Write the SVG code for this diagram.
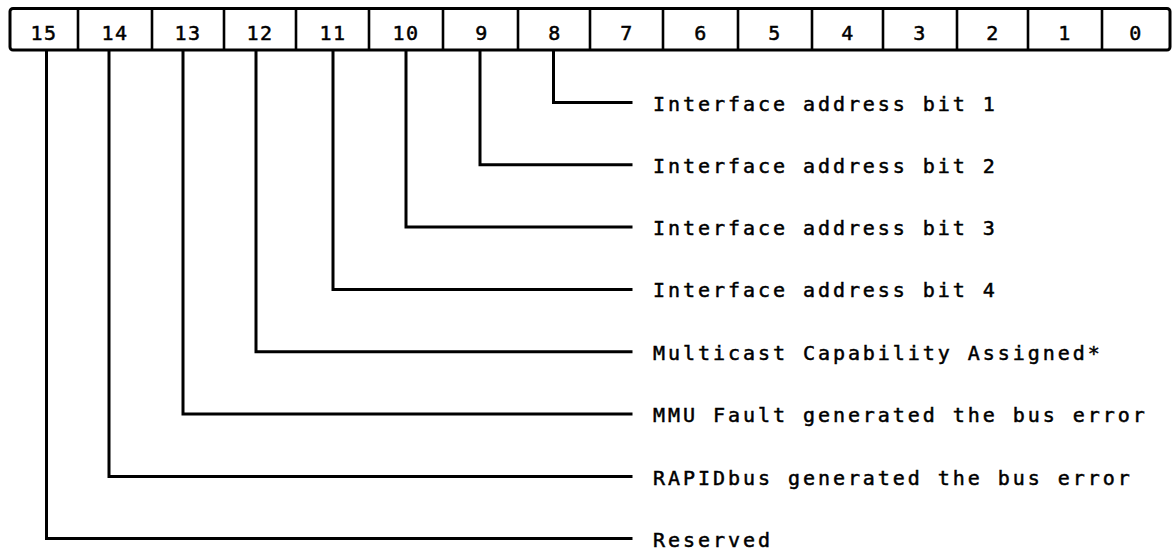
<svg xmlns="http://www.w3.org/2000/svg" width="1173" height="555" viewBox="0 0 1173 555">
<style>
.ln{fill:none;stroke:#000;stroke-width:3;stroke-linejoin:miter;stroke-linecap:square}
.bx{fill:#fff;stroke:#000;stroke-width:3}
.dv{stroke:#000;stroke-width:2.6}
.num{font-family:"DejaVu Sans Mono","Liberation Mono",monospace;font-size:20px;fill:#000;stroke:#000;stroke-width:0.5;text-anchor:middle;letter-spacing:1.5px}
.lbl{font-family:"DejaVu Sans Mono","Liberation Mono",monospace;font-size:20px;fill:#000;stroke:#000;stroke-width:0.5;letter-spacing:2.95px}
</style>
<rect width="1173" height="555" fill="#fff"/>
<g id="register">
<rect class="bx" x="10" y="8.5" width="1160" height="41.5" rx="3"/>
<line class="dv" x1="78" y1="8.5" x2="78" y2="50"/>
<line class="dv" x1="152" y1="8.5" x2="152" y2="50"/>
<line class="dv" x1="224" y1="8.5" x2="224" y2="50"/>
<line class="dv" x1="296" y1="8.5" x2="296" y2="50"/>
<line class="dv" x1="369" y1="8.5" x2="369" y2="50"/>
<line class="dv" x1="443" y1="8.5" x2="443" y2="50"/>
<line class="dv" x1="518" y1="8.5" x2="518" y2="50"/>
<line class="dv" x1="590" y1="8.5" x2="590" y2="50"/>
<line class="dv" x1="663" y1="8.5" x2="663" y2="50"/>
<line class="dv" x1="738" y1="8.5" x2="738" y2="50"/>
<line class="dv" x1="812" y1="8.5" x2="812" y2="50"/>
<line class="dv" x1="883" y1="8.5" x2="883" y2="50"/>
<line class="dv" x1="957" y1="8.5" x2="957" y2="50"/>
<line class="dv" x1="1028" y1="8.5" x2="1028" y2="50"/>
<line class="dv" x1="1102" y1="8.5" x2="1102" y2="50"/>
<text class="num" x="44" y="40">15</text>
<text class="num" x="115" y="40">14</text>
<text class="num" x="188" y="40">13</text>
<text class="num" x="260" y="40">12</text>
<text class="num" x="333" y="40">11</text>
<text class="num" x="406" y="40">10</text>
<text class="num" x="482" y="40">9</text>
<text class="num" x="555" y="40">8</text>
<text class="num" x="627" y="40">7</text>
<text class="num" x="701" y="40">6</text>
<text class="num" x="775" y="40">5</text>
<text class="num" x="848" y="40">4</text>
<text class="num" x="920" y="40">3</text>
<text class="num" x="993" y="40">2</text>
<text class="num" x="1065" y="40">1</text>
<text class="num" x="1136" y="40">0</text>
</g>
<g id="connectors">
<path class="ln" d="M553.5,51.5 V102.5 H631"/>
<path class="ln" d="M480,51.5 V164.8 H631"/>
<path class="ln" d="M406,51.5 V227.1 H631"/>
<path class="ln" d="M333,51.5 V289.4 H631"/>
<path class="ln" d="M256,51.5 V351.7 H631"/>
<path class="ln" d="M183,51.5 V414 H631"/>
<path class="ln" d="M109,51.5 V476.5 H631"/>
<path class="ln" d="M46.5,51.5 V538.5 H631"/>
</g>
<g id="field-bit8"><text class="lbl" x="653" y="110.5">Interface address bit 1</text></g>
<g id="field-bit9"><text class="lbl" x="653" y="172.8">Interface address bit 2</text></g>
<g id="field-bit10"><text class="lbl" x="653" y="235.1">Interface address bit 3</text></g>
<g id="field-bit11"><text class="lbl" x="653" y="297.4">Interface address bit 4</text></g>
<g id="field-bit12"><text class="lbl" x="653" y="359.7">Multicast Capability Assigned*</text></g>
<g id="field-bit13"><text class="lbl" x="653" y="422">MMU Fault generated the bus error</text></g>
<g id="field-bit14"><text class="lbl" x="653" y="484.5">RAPIDbus generated the bus error</text></g>
<g id="field-bit15"><text class="lbl" x="653" y="546.5">Reserved</text></g>
</svg>
